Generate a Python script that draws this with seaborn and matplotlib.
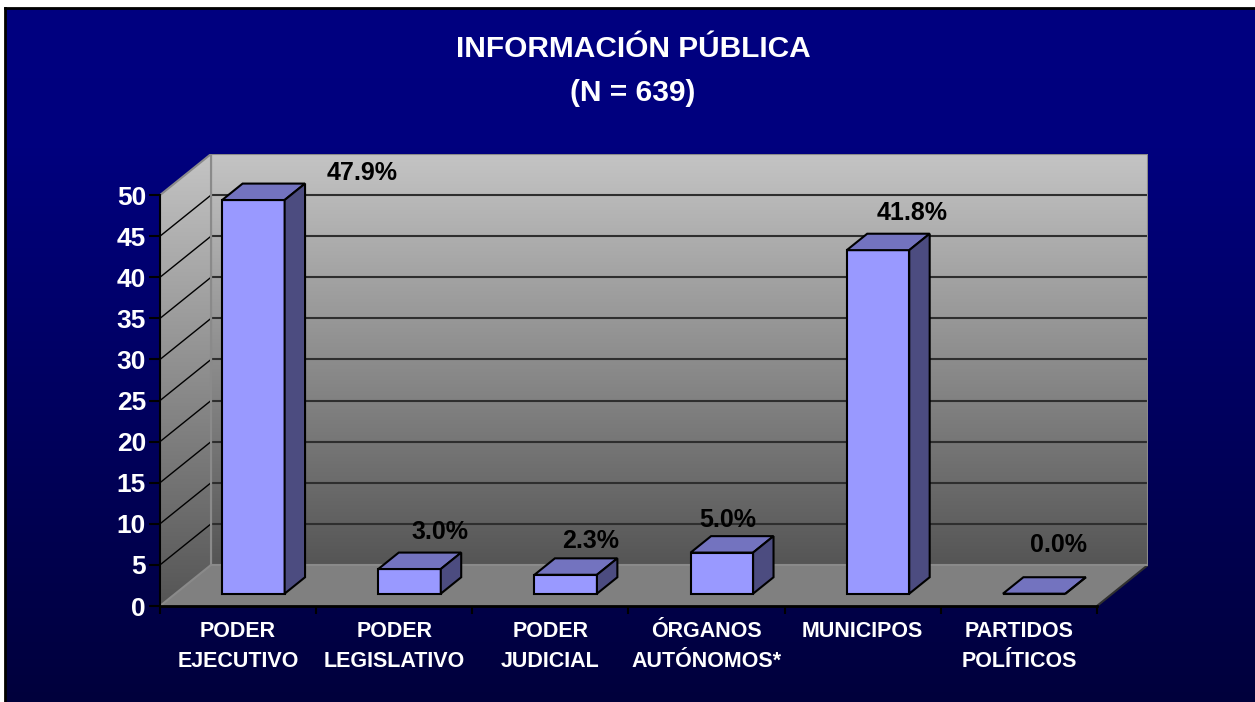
import numpy as np
import pandas as pd
import matplotlib
matplotlib.use("Agg")
import matplotlib.pyplot as plt
import seaborn as sns
from matplotlib.patches import Polygon, Rectangle
from matplotlib.colors import LinearSegmentedColormap

# Datos
categorias = ["PODER\nEJECUTIVO", "PODER\nLEGISLATIVO", "PODER\nJUDICIAL",
              "ÓRGANOS\nAUTÓNOMOS*", "MUNICIPOS", "PARTIDOS\nPOLÍTICOS"]
porcentajes = [47.9, 3.0, 2.3, 5.0, 41.8, 0.0]
etiquetas = ["47.9%", "3.0%", "2.3%", "5.0%", "41.8%", "0.0%"]
ticks_y = [0, 5, 10, 15, 20, 25, 30, 35, 40, 45, 50]

# desplazamiento de las etiquetas (pixeles)
offsets = [(88, 11), (10, 21), (4, 17), (-14, 16), (14, 21), (4, 32)]

sns.set_style("white")
plt.rcParams['font.family'] = ['Liberation Sans', 'DejaVu Sans']

W, H = 1255, 702
fig = plt.figure(figsize=(W / 100, H / 100), dpi=100)
fig.patch.set_facecolor('white')

# Fondo azul con degradado
bg = fig.add_axes([5 / W, 0, 1 - 5 / W, 694 / H])
azul = np.interp(np.linspace(0, 1, 256), [0, 0.2, 1], [128, 126, 60]) / 255
img = np.zeros((256, 1, 3))
img[:, 0, 2] = azul
bg.imshow(img, aspect='auto', extent=[0, 1, 0, 1])
bg.set_xticks([])
bg.set_yticks([])
for s in ['right', 'bottom']:
    bg.spines[s].set_visible(False)
for s in ['left', 'top']:
    bg.spines[s].set_color('black')
    bg.spines[s].set_linewidth(2)

# profundidad 3D
DX = 51 / 156
DY = 5.0
F0, BD = 0.3, 0.4

ax = fig.add_axes([160 / W, 96 / H, (937 + 51) / W, (411 + 41) / H])
ax.set_facecolor('none')

df = pd.DataFrame({'categoria': categorias, 'porcentaje': porcentajes})
sns.barplot(data=df, x='categoria', y='porcentaje', ax=ax, color='#9999FF',
            saturation=1, width=0.4, edgecolor='black', linewidth=1.5, zorder=6)
bars = list(ax.patches)

# Paredes con degradado
cmap_pared = LinearSegmentedColormap.from_list('pared', ['#555555', '#C4C4C4'])
grad = np.linspace(0, 1, 256).reshape(-1, 1)
ax.imshow(grad, cmap=cmap_pared, origin='lower', aspect='auto',
          extent=[-0.5 + DX, 5.5 + DX, DY, 50 + DY], zorder=0)
pared_izq = Polygon([(-0.5, 0), (-0.5 + DX, DY), (-0.5 + DX, 50 + DY), (-0.5, 50)],
                    closed=True, facecolor='none', edgecolor='#8A8A8A', lw=1.5, zorder=3)
ax.add_patch(pared_izq)
im2 = ax.imshow(grad, cmap=cmap_pared, origin='lower', aspect='auto',
                extent=[-0.5, -0.5 + DX, 0, 50 + DY], zorder=0)
im2.set_clip_path(pared_izq)
ax.add_patch(Rectangle((-0.5 + DX, DY), 6, 50, facecolor='none',
                       edgecolor='#8A8A8A', lw=1.5, zorder=3))

# Piso
ax.add_patch(Polygon([(-0.5, 0), (5.5, 0), (5.5 + DX, DY), (-0.5 + DX, DY)],
                     closed=True, facecolor='#808080', edgecolor='none', zorder=1))
ax.plot([5.5, 5.5 + DX], [0, DY], color='#303030', lw=1.5, zorder=2)

# Lineas de cuadricula
for t in ticks_y[1:-1]:
    ax.plot([-0.5 + DX, 5.5 + DX], [t + DY, t + DY], color='#2E2E2E', lw=1.5, zorder=2)
for t in ticks_y[1:-1]:
    ax.plot([-0.5, -0.5 + DX], [t, t + DY], color='black', lw=1, zorder=2)

# Barras en 3D
ddx, ddy = BD * DX, BD * DY
for p in bars:
    v = p.get_height()
    x0 = p.get_x() + F0 * DX
    y0 = F0 * DY
    p.set_x(x0)
    p.set_y(y0)
    x1 = x0 + p.get_width()
    ax.add_patch(Polygon([(x0, y0 + v), (x1, y0 + v), (x1 + ddx, y0 + v + ddy), (x0 + ddx, y0 + v + ddy)],
                         closed=True, facecolor='#7373BF', edgecolor='black', lw=1.5, zorder=6))
    ax.add_patch(Polygon([(x1, y0), (x1 + ddx, y0 + ddy), (x1 + ddx, y0 + v + ddy), (x1, y0 + v)],
                         closed=True, facecolor='#4C4C80', edgecolor='black', lw=1.5, zorder=6))

# Etiquetas de valores
for i, (v, txt) in enumerate(zip(porcentajes, etiquetas)):
    ax.annotate(txt, xy=(i + (F0 + BD) * DX, v + (F0 + BD) * DY), xytext=offsets[i],
                textcoords='offset pixels', ha='center', va='center',
                fontsize=18, fontweight='bold', color='black', zorder=7)

ax.set_xlim(-0.5, 5.5 + DX)
ax.set_ylim(0, 50 + DY)

# Ejes
ax.set_xlabel('')
ax.set_ylabel('')
ax.set_yticks(ticks_y)
ax.set_yticklabels([str(t) for t in ticks_y])
ax.tick_params(axis='y', labelcolor='white', labelsize=19, length=8, width=1.5,
               color='black', left=True, pad=2)
ax.set_xticks(np.arange(-0.5, 6, 1), minor=True)
ax.tick_params(axis='x', which='major', length=0, labelcolor='white', labelsize=15.5, pad=11)
ax.tick_params(axis='x', which='minor', length=6, width=1.5, color='black', bottom=True)
for lbl in ax.get_yticklabels() + ax.get_xticklabels():
    lbl.set_fontweight('bold')
for lbl in ax.get_xticklabels():
    lbl.set_linespacing(1.55)
for s in ['top', 'right']:
    ax.spines[s].set_visible(False)
ax.spines['left'].set_bounds(0, 50)
ax.spines['left'].set_color('black')
ax.spines['left'].set_linewidth(1.5)
ax.spines['bottom'].set_bounds(-0.5, 5.5)
ax.spines['bottom'].set_color('black')
ax.spines['bottom'].set_linewidth(2)
ax.spines['left'].set_zorder(4)
ax.spines['bottom'].set_zorder(4)

# Titulo
fig.text(633 / W, 1 - 49 / H, "INFORMACIÓN PÚBLICA", ha='center', va='center',
         fontsize=21.5, fontweight='bold', color='white')
fig.text(633 / W, 1 - 93 / H, "(N = 639)", ha='center', va='center',
         fontsize=21.5, fontweight='bold', color='white')

fig.savefig('out.png', dpi=100, facecolor=fig.get_facecolor())
